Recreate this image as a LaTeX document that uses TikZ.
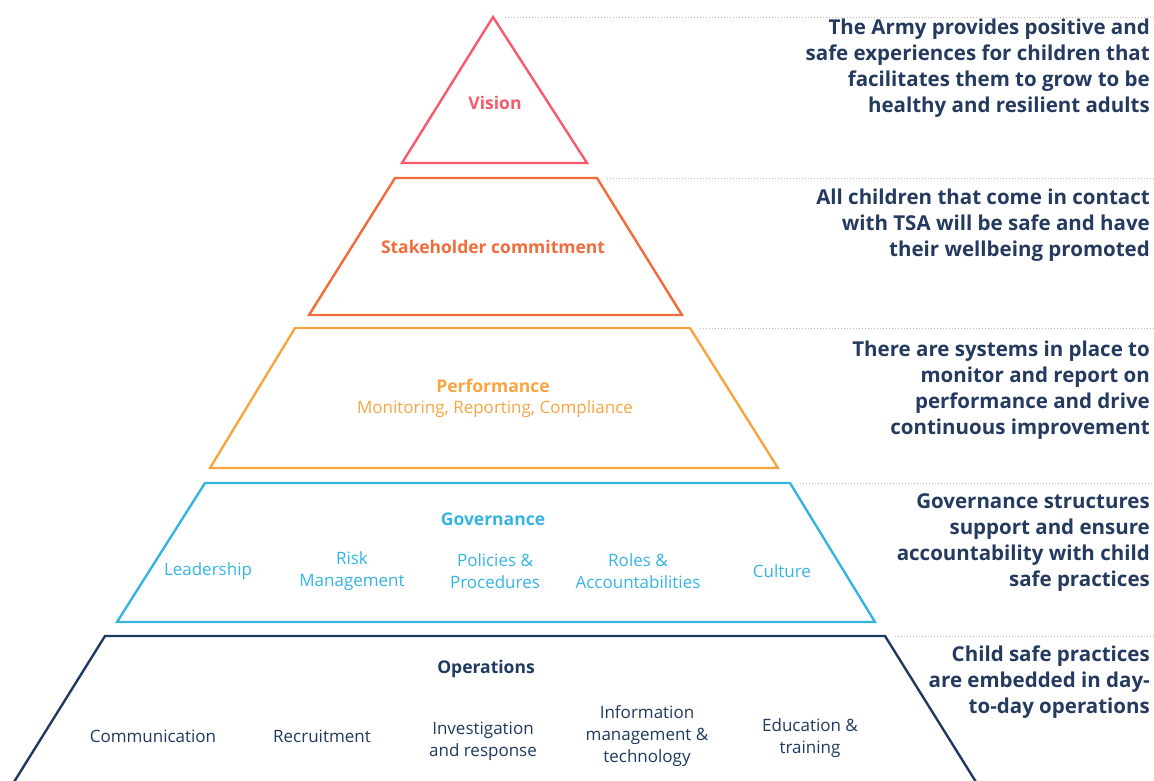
\documentclass[tikz,border=0pt]{standalone}
\usepackage{fontspec}
\setmainfont{Open Sans}
\definecolor{visioncol}{HTML}{F8596B}
\definecolor{stakecol}{HTML}{F26B3A}
\definecolor{perfcol}{HTML}{F8A540}
\definecolor{govcol}{HTML}{35B4E4}
\definecolor{opscol}{HTML}{1F3A60}
\definecolor{notecol}{HTML}{243A5E}
\begin{document}
\begin{tikzpicture}[x=1pt,y=-1pt,
    level/.style={line width=2.4pt, line join=miter},
    title/.style={font=\bfseries\fontsize{17.5}{20}\selectfont, inner sep=0pt},
    item/.style={font=\fontsize{17}{22}\selectfont, align=center, inner sep=0pt},
    note/.style={font=\bfseries\fontsize{20.5}{26}\selectfont, text=notecol, align=right, anchor=east, inner sep=0pt},
    guide/.style={black!28, dotted, line width=1pt}]

    \useasboundingbox (0,0) rectangle (1154,780); % page size
    \clip (0,0) rectangle (1154,780);

    % Vision
    \coordinate (vtop) at (493,17);
    \draw[level, visioncol] (vtop) -- (587,163) -- (402,163) -- cycle;
    \node[title, text=visioncol] (vision) at (495,103) {Vision};

    % Stakeholder commitment
    \coordinate (stop) at (597,178);
    \draw[level, stakecol] (395,178) -- (stop) -- (682,315) -- (309,315) -- cycle;
    \node[title, text=stakecol] (stake) at (493,247) {Stakeholder commitment};

    % Performance
    \coordinate (ptop) at (690,328);
    \draw[level, perfcol] (295,328) -- (ptop) -- (778,468) -- (210,468) -- cycle;
    \node[title, text=perfcol] (perf) at (493,386) {Performance};
    \node[item, text=perfcol] (perfsub) at (495,409) {Monitoring, Reporting, Compliance};

    % Governance
    \coordinate (gtop) at (790,483);
    \draw[level, govcol] (205,483) -- (gtop) -- (875,622) -- (117,622) -- cycle;
    \node[title, text=govcol] (gov) at (493,519) {Governance};
    \node[item, text=govcol] (lead) at (208,571) {Leadership};
    \node[item, text=govcol] (risk) at (352,571) {Risk\\Management};
    \node[item, text=govcol] (policy) at (495,571) {Policies \&\\Procedures};
    \node[item, text=govcol] (roles) at (638,571) {Roles \&\\Accountabilities};
    \node[item, text=govcol] (culture) at (782,571) {Culture};

    % Operations
    \coordinate (otop) at (885,636);
    \draw[level, opscol] (9,790) -- (105,636) -- (otop) -- (981,790);
    \node[title, text=opscol] (ops) at (486,669) {Operations};
    \node[item, text=opscol] (comm) at (153,736) {Communication};
    \node[item, text=opscol] (recr) at (322,736) {Recruitment};
    \node[item, text=opscol] (invest) at (483,741) {Investigation\\and response};
    \node[item, text=opscol] (info) at (647,736) {Information\\management \&\\technology};
    \node[item, text=opscol] (edu) at (810,738) {Education \&\\training};

    % guide lines to the right
    \coordinate (vend) at (1154,17);
    \coordinate (send) at (1154,178);
    \coordinate (pend) at (1154,328);
    \coordinate (gend) at (1154,483);
    \coordinate (oend) at (1154,636);
    \draw[guide] ([xshift=12pt]vtop) -- (vend);
    \draw[guide] ([xshift=10pt]stop) -- (send);
    \draw[guide] ([xshift=10pt]ptop) -- (pend);
    \draw[guide] ([xshift=10pt]gtop) -- (gend);
    \draw[guide] ([xshift=10pt]otop) -- (oend);

    % notes
    \node[note] (vnote) at (1150,68) {The Army provides positive and\\safe experiences for children that\\facilitates them to grow to be\\healthy and resilient adults};
    \node[note] (snote) at (1150,225) {All children that come in contact\\with TSA will be safe and have\\their wellbeing promoted};
    \node[note] (pnote) at (1150,390) {There are systems in place to\\monitor and report on\\performance and drive\\continuous improvement};
    \node[note] (gnote) at (1150,543) {Governance structures\\support and ensure\\accountability with child\\safe practices};
    \node[note] (onote) at (1150,682) {Child safe practices\\are embedded in day-\\to-day operations};

\end{tikzpicture}
\end{document}
